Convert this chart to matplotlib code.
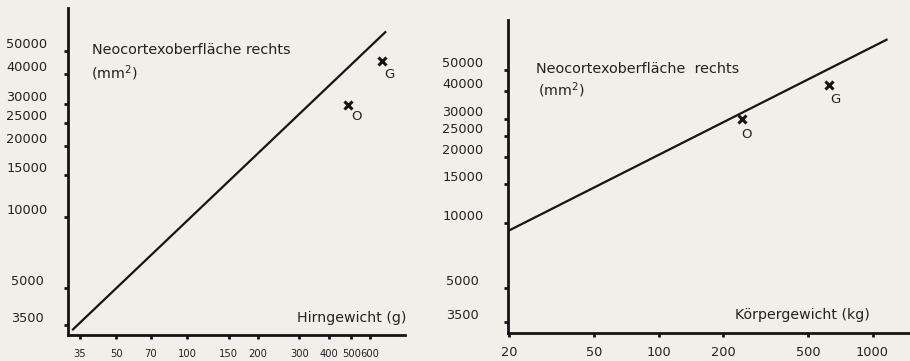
import numpy as np
import matplotlib
matplotlib.use("Agg")
import matplotlib.pyplot as plt

# --- Daten ---
# linkes Diagramm: Neocortexoberfläche gegen Hirngewicht
hirn_ticks = [35, 50, 70, 100, 150, 200, 300, 400, 500, 600]
hirn_fit_x = [32.4, 702]
hirn_fit_y = [3330, 60700]
hirn_pts_x = [483, 675]
hirn_pts_y = [29700, 45400]

# rechtes Diagramm: Neocortexoberfläche gegen Körpergewicht
koerper_ticks = [20, 50, 100, 200, 500, 1000]
koerper_fit_x = [20, 1175]
koerper_fit_y = [9190, 69300]
koerper_pts_x = [245, 627]
koerper_pts_y = [30000, 42700]

pt_names = ["O", "G"]
y_ticks = [3500, 5000, 10000, 15000, 20000, 25000, 30000, 40000, 50000]

W, H = 910, 361
bg = "#f2eee9"
ink = "#151515"

fig = plt.figure(figsize=(W / 100, H / 100), dpi=100, facecolor=bg)


def px_axes(x0, y0, x1, y1):
    # Achsen in Pixelkoordinaten (oben links = 0,0)
    return fig.add_axes([x0 / W, 1 - y1 / H, (x1 - x0) / W, (y1 - y0) / H])


def style(ax, xlim, ylim, xticks, ypad, xpad, xsize):
    ax.set_facecolor(bg)
    ax.set_xscale("log")
    ax.set_yscale("log")
    ax.set_xlim(*xlim)
    ax.set_ylim(*ylim)
    for s in ["top", "right"]:
        ax.spines[s].set_visible(False)
    for s in ["left", "bottom"]:
        ax.spines[s].set_linewidth(2)
        ax.spines[s].set_color(ink)
    ax.minorticks_off()
    ax.set_xticks(xticks, [str(v) for v in xticks])
    ax.set_yticks(y_ticks, [str(v) for v in y_ticks])
    ax.tick_params(axis="both", length=3, width=2, color=ink, labelcolor="#222")
    ax.tick_params(axis="y", pad=ypad, labelsize=9.3)
    ax.tick_params(axis="x", pad=xpad, labelsize=xsize)
    for lab in ax.get_yticklabels():
        lab.set_horizontalalignment("center")
        lab.set_verticalalignment("bottom")


def text_px(x, y, s, **kw):
    fig.text(x / W, 1 - y / H, s, color="#222", **kw)


# linkes Diagramm
ax1 = px_axes(68, 8, 405, 335)
style(ax1, (31.1, 845), (3177, 76200), hirn_ticks, 26.5, 7, 7.2)
ax1.plot(hirn_fit_x, hirn_fit_y, color=ink, lw=1.6, solid_capstyle="butt")
ax1.plot(hirn_pts_x, hirn_pts_y, "x", color=ink, ms=6, mew=2.2)
ax1.annotate(pt_names[0], (hirn_pts_x[0], hirn_pts_y[0]), xytext=(9, -12),
             textcoords="offset pixels", fontsize=9.5, color="#222",
             ha="center", va="center")
ax1.annotate(pt_names[1], (hirn_pts_x[1], hirn_pts_y[1]), xytext=(7, -13),
             textcoords="offset pixels", fontsize=9.5, color="#222",
             ha="center", va="center")

text_px(92, 50, "Neocortexoberfläche rechts", fontsize=10.4, va="center")
text_px(91, 73, "(mm$^2$)", fontsize=10.4, va="center")
text_px(406, 318, "Hirngewicht (g)", fontsize=10.2, va="center", ha="right")

# rechtes Diagramm
ax2 = px_axes(508, 20, 910, 333)
style(ax2, (19.8, 1496), (3115, 84900), koerper_ticks, 29.5, 6, 9.3)
ax2.plot(koerper_fit_x, koerper_fit_y, color=ink, lw=1.6, solid_capstyle="butt")
ax2.plot(koerper_pts_x, koerper_pts_y, "x", color=ink, ms=6, mew=2.2)
ax2.annotate(pt_names[0], (koerper_pts_x[0], koerper_pts_y[0]), xytext=(5, -16),
             textcoords="offset pixels", fontsize=9.5, color="#222",
             ha="center", va="center")
ax2.annotate(pt_names[1], (koerper_pts_x[1], koerper_pts_y[1]), xytext=(6, -14),
             textcoords="offset pixels", fontsize=9.5, color="#222",
             ha="center", va="center")

text_px(536, 69, "Neocortexoberfläche  rechts", fontsize=10.4, va="center")
text_px(538, 90, "(mm$^2$)", fontsize=10.4, va="center")
text_px(870, 315, "Körpergewicht (kg)", fontsize=10.2, va="center", ha="right")

fig.savefig("out.png", dpi=100, facecolor=bg)
